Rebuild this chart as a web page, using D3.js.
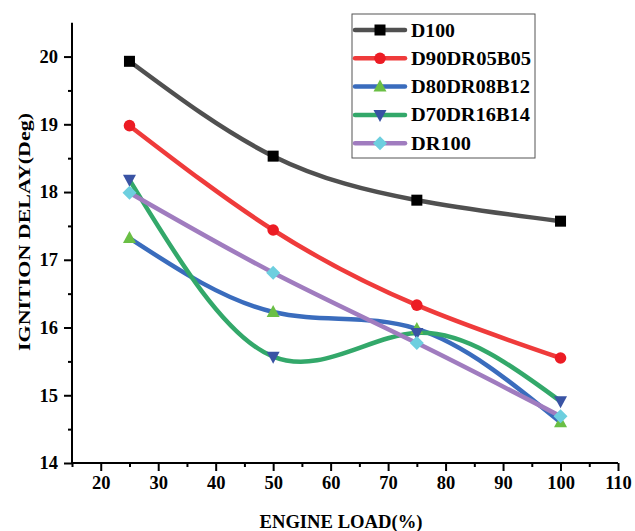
<!DOCTYPE html>
<html><head><meta charset="utf-8">
<script src="https://cdn.jsdelivr.net/npm/d3@7"></script>
<style>
body{margin:0;background:#fff}
text{font-family:"Liberation Serif","Times New Roman",serif;font-weight:bold;fill:#000}
</style></head>
<body><svg id="c" width="635" height="531"></svg>
<script>
const loads = [25, 50, 75, 100];
const seriesNames = ["D100", "D90DR05B05", "D80DR08B12", "D70DR16B14", "DR100"];
const D100 = [19.93, 18.53, 17.88, 17.57];
const D90DR05B05 = [18.98, 17.44, 16.33, 15.55];
const D80DR08B12 = [17.32, 16.23, 15.98, 14.60];
const D70DR16B14 = [18.18, 15.57, 15.92, 14.91];
const DR100 = [17.99, 16.81, 15.77, 14.69];
const xTicks = [20, 30, 40, 50, 60, 70, 80, 90, 100, 110];
const yTicks = [14, 15, 16, 17, 18, 19, 20];

const values = [D100, D90DR05B05, D80DR08B12, D70DR16B14, DR100];
const lineColors = ["#505050", "#ef3b3b", "#3a6cbd", "#33a86a", "#a07cbf"];
const markerColors = ["#000000", "#ec1c24", "#6abf45", "#3953a4", "#6dcfdf"];
const markerTypes = ["square", "circle", "triUp", "triDown", "diamond"];

const svg = d3.select("#c");
const x = d3.scaleLinear().domain([15, 110]).range([72, 618]);
const y = d3.scaleLinear().domain([14, 20.5]).range([463, 22.7]);

// axes
const xAxis = svg.append("g").attr("transform", "translate(0,463)")
  .call(d3.axisBottom(x).tickValues(xTicks).tickSize(8).tickPadding(5).tickFormat(d3.format("d")));
const xMinor = svg.append("g").attr("transform", "translate(0,463)")
  .call(d3.axisBottom(x).tickValues([15,25,35,45,55,65,75,85,95,105]).tickSize(4).tickFormat(""));
const yAxis = svg.append("g").attr("transform", "translate(72,0)")
  .call(d3.axisLeft(y).tickValues(yTicks).tickSize(8).tickPadding(6).tickFormat(d3.format("d")));
const yMinor = svg.append("g").attr("transform", "translate(72,0)")
  .call(d3.axisLeft(y).tickValues([14.5,15.5,16.5,17.5,18.5,19.5]).tickSize(4).tickFormat(""));
[xAxis, xMinor, yAxis, yMinor].forEach(g => {
  g.select(".domain").attr("stroke", "#000").attr("stroke-width", 2);
  g.selectAll(".tick line").attr("stroke", "#000").attr("stroke-width", 2);
  g.selectAll("text").attr("font-size", 18.5).attr("font-family", "Liberation Serif").attr("font-weight", "bold").attr("fill", "#000");
});
xMinor.select(".domain").remove();
yMinor.select(".domain").remove();
yAxis.select(".domain").attr("d", "M0,463V22.7");
xAxis.select(".domain").attr("d", "M72,0H618");

// titles
svg.append("text").attr("x", 341).attr("y", 528).attr("text-anchor", "middle")
  .attr("font-size", 18).attr("textLength", 163).attr("lengthAdjust", "spacingAndGlyphs")
  .text("ENGINE LOAD(%)");
svg.append("text").attr("transform", "translate(30,232) rotate(-90)").attr("text-anchor", "middle")
  .attr("font-size", 17.5).attr("textLength", 238).attr("lengthAdjust", "spacingAndGlyphs")
  .text("IGNITION DELAY(Deg)");

function marker(g, type, color, cx, cy) {
  const s = 5.5;
  if (type === "square") g.append("rect").attr("x", cx - s).attr("y", cy - s).attr("width", 2*s).attr("height", 2*s).attr("fill", color);
  else if (type === "circle") g.append("circle").attr("cx", cx).attr("cy", cy).attr("r", 5.8).attr("fill", color);
  else if (type === "triUp") g.append("path").attr("d", `M${cx},${cy-7}L${cx+6.5},${cy+5}L${cx-6.5},${cy+5}Z`).attr("fill", color);
  else if (type === "triDown") g.append("path").attr("d", `M${cx},${cy+7}L${cx+6.5},${cy-5}L${cx-6.5},${cy-5}Z`).attr("fill", color);
  else if (type === "diamond") g.append("path").attr("d", `M${cx},${cy-7}L${cx+7},${cy}L${cx},${cy+7}L${cx-7},${cy}Z`).attr("fill", color);
}

const line = d3.line().x(d => x(d[0])).y(d => y(d[1])).curve(d3.curveNatural);
const plot = svg.append("g");
values.forEach((vals, i) => {
  const pts = loads.map((l, j) => [l, vals[j]]);
  plot.append("path").attr("d", line(pts)).attr("fill", "none")
    .attr("stroke", lineColors[i]).attr("stroke-width", 4.5).attr("stroke-linecap", "round");
});
values.forEach((vals, i) => {
  const g = plot.append("g");
  loads.forEach((l, j) => marker(g, markerTypes[i], markerColors[i], x(l), y(vals[j])));
});

// legend
const lg = svg.append("g");
lg.append("rect").attr("x", 352).attr("y", 14).attr("width", 183).attr("height", 144)
  .attr("fill", "#fff").attr("stroke", "#555").attr("stroke-width", 1);
const legendWidths = [44, 120, 119, 119, 60];
seriesNames.forEach((n, i) => {
  const ly = 30 + i * 28.3;
  lg.append("line").attr("x1", 355).attr("x2", 405).attr("y1", ly).attr("y2", ly)
    .attr("stroke", lineColors[i]).attr("stroke-width", 4.5).attr("stroke-linecap", "round");
  marker(lg, markerTypes[i], markerColors[i], 380, ly);
  lg.append("text").attr("x", 411).attr("y", ly + 6.5).attr("font-size", 18)
    .attr("textLength", legendWidths[i]).attr("lengthAdjust", "spacingAndGlyphs").text(n);
});
</script></body></html>
